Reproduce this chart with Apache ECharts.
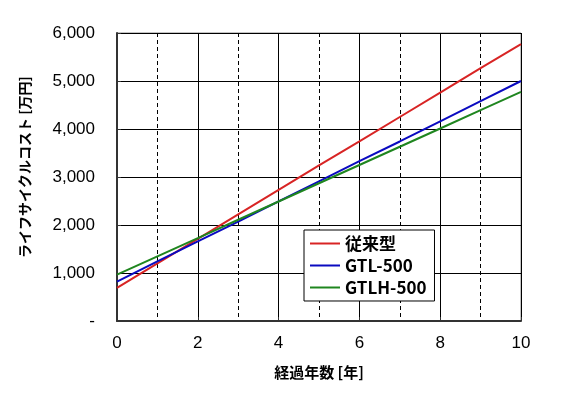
<!DOCTYPE html>
<html>
<head>
<meta charset="utf-8">
<script src="https://cdn.jsdelivr.net/npm/echarts@6/dist/echarts.min.js"></script>
<style>
html, body { margin: 0; padding: 0; background: #fff; }
#main { width: 583px; height: 399px; }
</style>
</head>
<body>
<div id="main"></div>
<script>
var years = [0, 1, 2, 3, 4, 5, 6, 7, 8, 9, 10];
var seriesNames = ['従来型', 'GTL-500', 'GTLH-500'];
var conventional = [690, 1200, 1710, 2220, 2730, 3240, 3740, 4250, 4760, 5270, 5770];
var gtl500 = [820, 1240, 1660, 2070, 2490, 2910, 3330, 3740, 4160, 4580, 5000];
var gtlh500 = [965, 1345, 1725, 2110, 2490, 2870, 3250, 3630, 4010, 4395, 4775];

var colors = ['#d82424', '#0a0ac0', '#1f861f'];

var chartDom = document.getElementById('main');
var myChart = echarts.init(chartDom);
var option;

function pairs(values) {
    return years.map(function (x, i) {
        return [x, values[i]];
    });
}

var font = '"Liberation Sans", Arial, sans-serif';
var jpFont = '"Noto Sans CJK JP", sans-serif';

option = {
    animation: false,
    grid: {
        left: 117,
        right: 62,
        top: 33,
        bottom: 78,
        show: true,
        borderColor: '#888',
        borderWidth: 1
    },
    legend: {
        orient: 'vertical',
        left: 304,
        top: 230,
        padding: [5, 8, 5, 6],
        itemGap: 5,
        itemWidth: 30,
        itemHeight: 2,
        icon: 'rect',
        backgroundColor: '#fff',
        borderColor: '#000',
        borderWidth: 1,
        borderRadius: 0,
        textStyle: { fontFamily: jpFont, fontSize: 17, color: '#000', fontWeight: 'bold' },
        data: seriesNames
    },
    xAxis: [{
        type: 'value',
        min: 0,
        max: 10,
        interval: 2,
        axisLine: { show: true, onZero: false, lineStyle: { color: '#333', width: 2 } },
        axisTick: { show: true, inside: true, length: 4, lineStyle: { color: '#333' } },
        axisLabel: { color: '#000', fontSize: 17, fontFamily: font, margin: 14 },
        splitLine: { show: true, lineStyle: { color: '#000', width: 1 } },
        name: '経過年数 [年]',
        nameLocation: 'middle',
        nameGap: 44,
        nameTextStyle: { fontFamily: jpFont, fontSize: 15, fontWeight: 'bold', color: '#000' }
    }, {
        type: 'value',
        min: 0,
        max: 10,
        interval: 1,
        position: 'top',
        axisLine: { show: false },
        axisTick: { show: false },
        axisLabel: { show: false },
        splitLine: { show: true, lineStyle: { color: '#000', width: 1, type: [4, 3] } }
    }],
    yAxis: {
        type: 'value',
        min: 0,
        max: 6000,
        interval: 1000,
        axisLine: { show: true, lineStyle: { color: '#333', width: 2 } },
        axisTick: { show: true, inside: true, length: 4, lineStyle: { color: '#333' } },
        axisLabel: {
            color: '#000',
            fontSize: 17,
            fontFamily: font,
            margin: 22,
            formatter: function (v) {
                return v === 0 ? '-' : v.toLocaleString('en-US');
            }
        },
        splitLine: { show: true, lineStyle: { color: '#000', width: 1 } },
        name: 'ライフサイクルコスト [万円]',
        nameLocation: 'middle',
        nameGap: 85,
        nameTextStyle: { fontFamily: jpFont, fontSize: 14, fontWeight: 'bold', color: '#000', padding: [0, 0, 0, 20] }
    },
    series: [{
        name: seriesNames[0],
        type: 'line',
        symbol: 'none',
        z: 3,
        lineStyle: { color: colors[0], width: 2 },
        itemStyle: { color: colors[0] },
        data: pairs(conventional)
    }, {
        name: seriesNames[1],
        type: 'line',
        symbol: 'none',
        z: 4,
        lineStyle: { color: colors[1], width: 2 },
        itemStyle: { color: colors[1] },
        data: pairs(gtl500)
    }, {
        name: seriesNames[2],
        type: 'line',
        symbol: 'none',
        z: 5,
        lineStyle: { color: colors[2], width: 2 },
        itemStyle: { color: colors[2] },
        data: pairs(gtlh500)
    }]
};

myChart.setOption(option);
</script>
</body>
</html>
